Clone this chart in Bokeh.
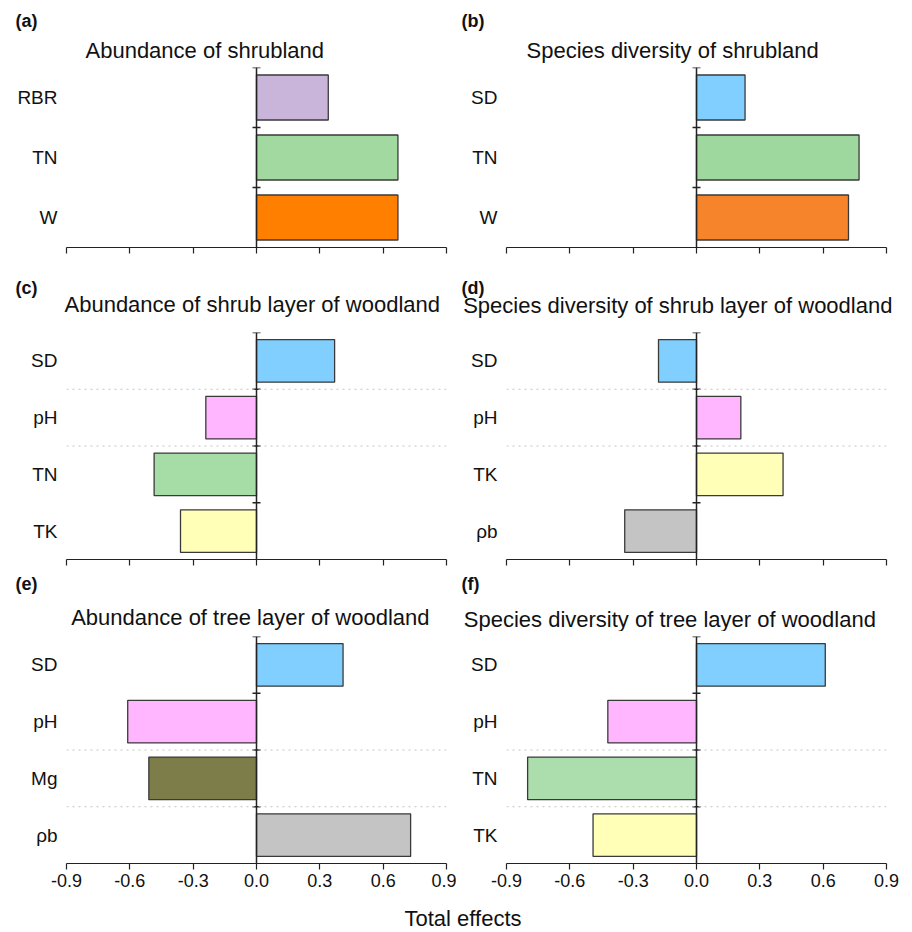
import numpy as np
from bokeh.plotting import figure
from bokeh.layouts import column, row
from bokeh.models import Span, Label, FixedTicker, NumeralTickFormatter, CustomJSTickFormatter
from bokeh.embed import file_html
from bokeh.resources import INLINE

# ---------------- data ----------------
a_vars = ["RBR", "TN", "W"]
a_vals = [0.34, 0.67, 0.67]
a_colors = ["#C9B4DA", "#A1D9A1", "#FF8000"]

b_vars = ["SD", "TN", "W"]
b_vals = [0.23, 0.77, 0.72]
b_colors = ["#80CFFF", "#9FD89F", "#F5842A"]

c_vars = ["SD", "pH", "TN", "TK"]
c_vals = [0.37, -0.24, -0.485, -0.36]
c_colors = ["#80CFFF", "#FFB6FF", "#A6DCA6", "#FFFFB8"]

d_vars = ["SD", "pH", "TK", "ρb"]
d_vals = [-0.18, 0.21, 0.41, -0.34]
d_colors = ["#80CFFF", "#FFB6FF", "#FFFFB8", "#C4C4C4"]

e_vars = ["SD", "pH", "Mg", "ρb"]
e_vals = [0.41, -0.61, -0.51, 0.73]
e_colors = ["#80CFFF", "#FFB6FF", "#7D7D4A", "#C4C4C4"]

f_vars = ["SD", "pH", "TN", "TK"]
f_vals = [0.61, -0.42, -0.80, -0.49]
f_colors = ["#80CFFF", "#FFB6FF", "#ACDDAC", "#FFFFB8"]

letters = ["(a)", "(b)", "(c)", "(d)", "(e)", "(f)"]
titles = ["Abundance of shrubland",
          "Species diversity of shrubland",
          "Abundance of shrub layer of woodland",
          "Species diversity of shrub layer of woodland",
          "Abundance of tree layer of woodland",
          "Species diversity of tree layer of woodland"]
# categories below which a faint dotted separator is drawn
dividers = [[], [], ["SD", "pH"], ["SD", "pH"], ["pH", "Mg"], ["pH", "TN"]]

x_ticks = [-0.9, -0.6, -0.3, 0.0, 0.3, 0.6, 0.9]
x_label = "Total effects"

# ---------------- layout / style ----------------
FONT = "Liberation Sans"
BG = "#FFFFFF"
TXT = "#111111"
COL_W = [456, 456]
COL_LEFT = [66, 50]
FRAME_W = 380
# header height, panel top border, frame height, panel bottom border, show tick labels
ROWS = [dict(head=63, top=4, frame=180, bottom=15, labels=False),
        dict(head=64, top=6, frame=227, bottom=11, labels=False),
        dict(head=61, top=5, frame=227, bottom=34, labels=True)]
FOOT_H = 35
LETTER_FS, TITLE_FS = 18, 22
BASELINE_FIX = 0.32  # em; compensates the label anchor offset of the renderer
# page positions (x, baseline) of panel letters and titles
LETTER_POS = [(15, 26.2), (461, 26.2), (15, 293.2), (461, 293.2), (15, 589.2), (461, 589.2)]
TITLE_POS = [(85, 56.7), (526, 57.0), (64, 310.8), (462.7, 312.5), (70.7, 624.0), (463.3, 625.8)]
XLABEL_POS = (462.5, 925.0)

data = [(a_vars, a_vals, a_colors), (b_vars, b_vals, b_colors),
        (c_vars, c_vals, c_colors), (d_vars, d_vals, d_colors),
        (e_vars, e_vals, e_colors), (f_vars, f_vals, f_colors)]


def blank_fig(height):
    f = figure(width=sum(COL_W), height=height, output_backend="svg", toolbar_location=None,
               x_axis_location=None, y_axis_location=None, x_range=(0, 1), y_range=(0, 1),
               min_border=0)
    f.background_fill_color = BG
    f.border_fill_color = BG
    f.outline_line_color = None
    f.grid.visible = False
    return f


def text_label(fig, x, y_from_bottom, text, fs, **kw):
    fig.add_layout(Label(x=x, y=y_from_bottom + BASELINE_FIX * fs, x_units="screen",
                         y_units="screen", text=text, text_font=FONT,
                         text_font_size=f"{fs}px", text_baseline="alphabetic",
                         text_color=TXT, **kw))


def make_panel(i):
    vars_, vals, cols = data[i]
    r = ROWS[i // 2]
    left = COL_LEFT[i % 2]
    w = COL_W[i % 2]
    n = len(vars_)
    ys = np.arange(n)[::-1].astype(float)  # first category on top
    p = figure(width=w, height=r["top"] + r["frame"] + r["bottom"], output_backend="svg",
               toolbar_location=None, x_range=(-0.9, 0.9), y_range=(-0.5, n - 0.5),
               min_border_left=left, min_border_right=w - left - FRAME_W,
               min_border_top=r["top"], min_border_bottom=r["bottom"])
    p.background_fill_color = BG
    p.border_fill_color = BG
    p.outline_line_color = None
    p.grid.visible = False

    for name in dividers[i]:
        k = vars_.index(name)
        p.add_layout(Span(location=ys[k] - 0.5, dimension="width", line_color="#C4C4C4",
                          line_dash="dotted", line_width=1))

    p.hbar(y=ys, left=0, right=vals, height=0.75, fill_color=cols,
           line_color="#3A3A3A", line_width=1.3)

    # zero line acting as the category axis, with ticks at category boundaries
    p.add_layout(Span(location=0, dimension="height", line_color="#222222", line_width=1.5))
    p.scatter(x=np.zeros(n), y=ys + 0.5, marker="dash", size=8,
              line_color="#222222", line_width=1.5)

    # y axis: category labels only
    p.yaxis.ticker = FixedTicker(ticks=list(ys))
    p.yaxis.major_label_overrides = {int(y): v for y, v in zip(ys, vars_)}
    p.yaxis.axis_line_color = None
    p.yaxis.major_tick_line_color = None
    p.yaxis.minor_tick_line_color = None
    p.yaxis.major_tick_out = 0
    p.yaxis.major_tick_in = 0
    p.yaxis.major_label_standoff = 9
    p.yaxis.major_label_text_font = FONT
    p.yaxis.major_label_text_font_size = "19px"
    p.yaxis.major_label_text_color = TXT

    # x axis
    p.xaxis.ticker = FixedTicker(ticks=x_ticks)
    p.xaxis.axis_line_color = "#222222"
    p.xaxis.axis_line_width = 1.2
    p.xaxis.major_tick_line_color = "#222222"
    p.xaxis.major_tick_line_width = 1.2
    p.xaxis.major_tick_out = 6
    p.xaxis.major_tick_in = 0
    p.xaxis.minor_tick_line_color = None
    p.xaxis.major_label_text_font = FONT
    p.xaxis.major_label_text_color = TXT
    if r["labels"]:
        p.xaxis.formatter = NumeralTickFormatter(format="0.0")
        p.xaxis.major_label_standoff = 4
        p.xaxis.major_label_text_font_size = "18px"
    else:
        p.xaxis.formatter = CustomJSTickFormatter(code="return ''")
        p.xaxis.major_label_standoff = 0
        p.xaxis.major_label_text_font_size = "1px"
    return p


items = []
page_top = 0
for ri, r in enumerate(ROWS):
    head = blank_fig(r["head"])
    bottom = page_top + r["head"]
    for i in (2 * ri, 2 * ri + 1):
        lx, lb = LETTER_POS[i]
        text_label(head, lx, bottom - lb, letters[i], LETTER_FS, text_font_style="bold")
        tx, tb = TITLE_POS[i]
        text_label(head, tx, bottom - tb, titles[i], TITLE_FS)
    items.append(head)
    items.append(row(make_panel(2 * ri), make_panel(2 * ri + 1)))
    page_top = bottom + r["top"] + r["frame"] + r["bottom"]

foot = blank_fig(FOOT_H)
fx, fb = XLABEL_POS
text_label(foot, fx, page_top + FOOT_H - fb, x_label, TITLE_FS, text_align="center")
items.append(foot)

layout = column(*items)
open("out.html", "w").write(file_html(layout, INLINE))
